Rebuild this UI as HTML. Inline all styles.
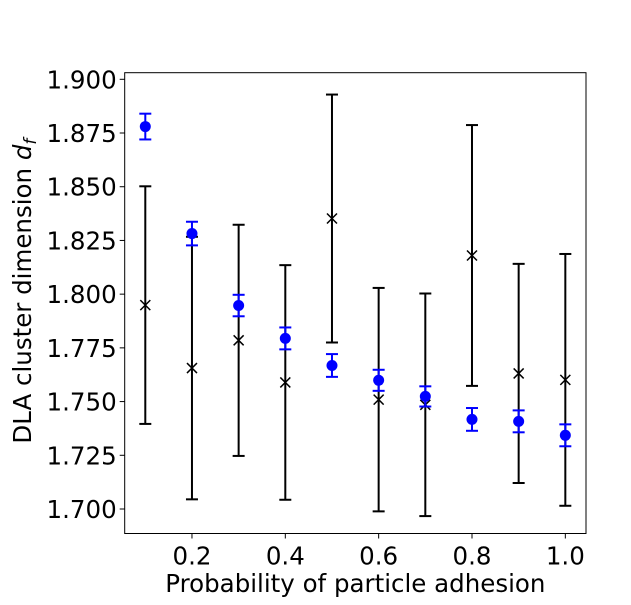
<!DOCTYPE html>
<html><head><meta charset="utf-8"><style>
body{margin:0;background:#fff}
svg text{font-family:"DejaVu Sans","Liberation Sans",sans-serif;fill:#000}
</style></head><body>
<svg id="chart" width="631" height="600" xmlns="http://www.w3.org/2000/svg">
<g id="plot"></g>
</svg>
<script>
const xs=[0.1,0.2,0.3,0.4,0.5,0.6,0.7,0.8,0.9,1.0];
const blueVals=[1.8780,1.8282,1.7947,1.7794,1.7668,1.7599,1.7524,1.7417,1.7408,1.7343];
const blueErr=[0.006,0.0055,0.005,0.0051,0.0053,0.0049,0.0047,0.0053,0.0051,0.0051];
const blackVals=[1.7949,1.7656,1.7785,1.7589,1.8352,1.7509,1.7485,1.8180,1.7631,1.7601];
const blackErr=[0.0553,0.0611,0.0538,0.0546,0.0577,0.052,0.0518,0.0607,0.051,0.0586];
const xTicks=[0.2,0.4,0.6,0.8,1.0];
const yTicks=[1.700,1.725,1.750,1.775,1.800,1.825,1.850,1.875,1.900];
const NS="http://www.w3.org/2000/svg";
const L=124.7,R=586,T=72.7,B=533.5;
const X=v=>145.3+(v-0.1)*466.7;
const Y=v=>79.3+(1.9-v)*2148.5;
const g=document.getElementById('plot');
function mk(tag,attrs,parent){const e=document.createElementNS(NS,tag);for(const k in attrs)e.setAttribute(k,attrs[k]);(parent||g).appendChild(e);return e;}
let fr=mk('rect',{x:L,y:T,width:R-L,height:B-T,fill:'none',stroke:'#000','stroke-width':1});


xTicks.forEach(t=>{
 let l=mk('line',{x1:X(t),x2:X(t),y1:B,y2:B+5,stroke:'#000'});
 
 
 let tx=mk('text',{x:X(t),y:B+31,'text-anchor':'middle','font-size':24.5});
 tx.textContent=t.toFixed(1);
 
 
});
yTicks.forEach(t=>{
 let l=mk('line',{x1:L-5,x2:L,y1:Y(t),y2:Y(t),stroke:'#000'});
 
 
 let tx=mk('text',{x:L-8,y:Y(t)+9,'text-anchor':'end','font-size':24.5});
 tx.textContent=t.toFixed(3);
 
 
});
function errbar(x,v,e,col,name){
 const gg=mk('g',{});
 
 
 const cx=X(x),y1=Y(v+e),y2=Y(v-e);
 mk('line',{x1:cx,x2:cx,y1:y1,y2:y2,stroke:col,'stroke-width':2},gg);
 mk('line',{x1:cx-6,x2:cx+6,y1:y1,y2:y1,stroke:col,'stroke-width':2},gg);
 mk('line',{x1:cx-6,x2:cx+6,y1:y2,y2:y2,stroke:col,'stroke-width':2},gg);
 return gg;
}
xs.forEach((x,i)=>{
 errbar(x,blackVals[i],blackErr[i],'#000','black-errorbar');
 const cx=X(x),cy=Y(blackVals[i]);
 let m=mk('path',{d:`M${cx-5},${cy-5}L${cx+5},${cy+5}M${cx-5},${cy+5}L${cx+5},${cy-5}`,stroke:'#000','stroke-width':1.5,fill:'none'});
 
 
});
xs.forEach((x,i)=>{
 errbar(x,blueVals[i],blueErr[i],'#0000ff','blue-errorbar');
 let c=mk('circle',{cx:X(x),cy:Y(blueVals[i]),r:5.5,fill:'#0000ff'});
 
 
});
let xl=mk('text',{x:(L+R)/2,y:592,'text-anchor':'middle','font-size':24.5});
xl.textContent='Probability of particle adhesion';


let yl=mk('text',{x:0,y:0,'text-anchor':'middle','font-size':24.5,transform:`translate(31,${(T+B)/2-12}) rotate(-90)`});
yl.innerHTML='DLA cluster dimension <tspan font-style="italic">d</tspan><tspan font-style="italic" font-size="17" dy="5">f</tspan>';


</script>
</body></html>
